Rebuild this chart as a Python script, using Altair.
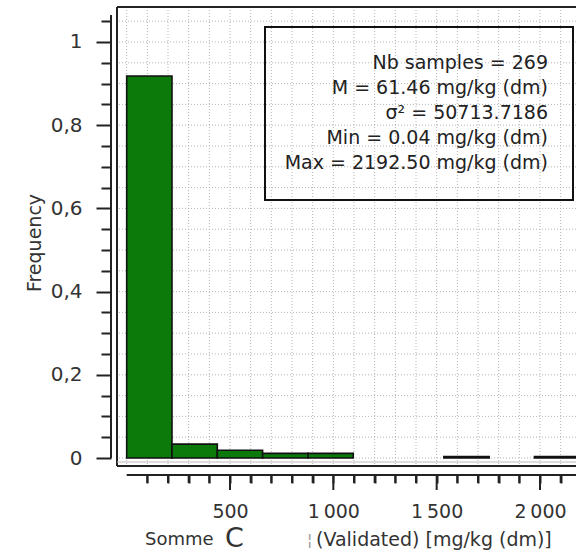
import altair as alt
import pandas as pd

# ---- data ----
bin_starts = [0.04, 219.29, 438.53, 657.78, 877.02, 1096.27, 1315.51, 1534.76, 1754.00, 1973.25]
bin_ends = [219.29, 438.53, 657.78, 877.02, 1096.27, 1315.51, 1534.76, 1754.00, 1973.25, 2192.50]
counts = [247, 9, 5, 3, 3, 0, 0, 1, 0, 1]
n_samples = 269
stats_lines = [
    "Nb samples = 269",
    "M = 61.46 mg/kg (dm)",
    "σ² = 50713.7186",
    "Min = 0.04 mg/kg (dm)",
    "Max = 2192.50 mg/kg (dm)",
]
y_ticks = [round(i * 0.05, 2) for i in range(22)]
x_ticks = list(range(100, 2200, 100))
x_major = [500, 1000, 1500, 2000]
x_grid = list(range(0, 2200, 100))
y_title = "Frequency"
x_title_parts = ["Somme", "C", "¦", "(Validated) [mg/kg (dm)]"]

FONT = "DejaVu Sans"
W, H = 459, 459
Y_DOMAIN = [-0.01923, 1.08413]


def y_at(px):
    # value of the y scale at a given local pixel row (used for the x-axis tick marks)
    return Y_DOMAIN[1] - px / H * (Y_DOMAIN[1] - Y_DOMAIN[0])


bars = pd.DataFrame({
    "start": bin_starts,
    "end": bin_ends,
    "freq": [c / n_samples for c in counts],
})
bars = bars[bars["freq"] > 0]

xscale = alt.Scale(domain=[-46.8, 2174.2], nice=False, zero=False)
yscale = alt.Scale(domain=Y_DOMAIN, nice=False, zero=False)

x_axis = alt.Axis(
    values=x_ticks, offset=9, domain=False, grid=False, title=None,
    ticks=True, tickSize=8, tickWidth=2, tickColor="#222222",
    labelExpr="datum.value % 500 == 0 ? replace(format(datum.value, ','), ',', '\u2009') : ''",
    labelFont=FONT, labelFontSize=19, labelColor="#333333",
    labelPadding=19, labelFlush=False, labelOverlap=False,
)
y_axis = alt.Axis(
    values=y_ticks, offset=6, domain=False, grid=False, title=None,
    tickColor="#222222", tickWidth=2,
    tickSize={"condition": {"test": "abs(datum.value*5 - round(datum.value*5)) < 0.001", "value": 15}, "value": 10},
    labelExpr="abs(datum.value*5 - round(datum.value*5)) < 0.001 ? replace(format(datum.value, '.1~f'), '.', ',') : ''",
    labelFont=FONT, labelFontSize=20, labelColor="#333333",
    labelPadding=14, labelFlush=False, labelOverlap=False,
)

grid_h = alt.Chart(pd.DataFrame({"v": y_ticks})).mark_rule(
    color="#b5b5b5", strokeDash=[1, 2], strokeWidth=1
).encode(y=alt.Y("v:Q", scale=yscale, axis=y_axis, title=None))

grid_v = alt.Chart(pd.DataFrame({"v": x_grid})).mark_rule(
    color="#b5b5b5", strokeDash=[1, 2], strokeWidth=1
).encode(x=alt.X("v:Q", scale=xscale, axis=x_axis, title=None))

bar_layer = alt.Chart(bars).mark_rect(
    color="#0b7a0b", stroke="#111111", strokeWidth=1.6
).encode(
    x=alt.X("start:Q", scale=xscale, axis=x_axis, title=None),
    x2="end:Q",
    y=alt.Y("freq:Q", scale=yscale, axis=y_axis, title=None),
    y2=alt.datum(0),
)

# x-axis tick marks: minor every 100, major every 500 (x through the x scale)
tick_df = pd.DataFrame({"v": x_ticks})
tick_df["top"] = y_at(H + 9)
tick_df["bottom"] = [y_at(H + 24) if v in x_major else y_at(H + 17) for v in x_ticks]
x_tick_layer = alt.Chart(tick_df).mark_rule(
    color="#222222", strokeWidth=2, clip=False
).encode(
    x=alt.X("v:Q", scale=xscale, axis=x_axis, title=None),
    y=alt.Y("top:Q", scale=yscale, axis=y_axis, title=None),
    y2="bottom:Q",
)

# axis lines
y_axis_line = alt.Chart(pd.DataFrame({"lo": [0.0], "hi": [1.065]})).mark_rule(
    color="#222222", strokeWidth=2, clip=False
).encode(x=alt.value(-6), y=alt.Y("lo:Q", scale=yscale, axis=y_axis, title=None), y2="hi:Q")

x_axis_line = alt.Chart(pd.DataFrame({"lo": [0.0], "hi": [2174.2]})).mark_rule(
    color="#222222", strokeWidth=2, clip=False
).encode(y=alt.value(H + 9), x=alt.X("lo:Q", scale=xscale, axis=x_axis, title=None), x2="hi:Q")

# frame
one = pd.DataFrame({"a": [0]})
frame_top = alt.Chart(one).mark_rule(color="#222222", strokeWidth=2).encode(
    x=alt.value(0), x2=alt.value(W), y=alt.value(0))
frame_left = alt.Chart(one).mark_rule(color="#222222", strokeWidth=2).encode(
    x=alt.value(0), y=alt.value(0), y2=alt.value(H))
frame_bottom = alt.Chart(one).mark_rule(color="#222222", strokeWidth=2).encode(
    x=alt.value(0), x2=alt.value(W), y=alt.value(H))
frame_bottom2 = alt.Chart(one).mark_rule(color="#bbbbbb", strokeWidth=1).encode(
    x=alt.value(0), x2=alt.value(W), y=alt.value(H - 4))

# stats box
stats_box = alt.Chart(one).mark_rect(
    fill=None, stroke="#111111", strokeWidth=2
).encode(x=alt.value(148), x2=alt.value(456), y=alt.value(20), y2=alt.value(193))

stats_layers = [
    alt.Chart(pd.DataFrame({"t": [line]})).mark_text(
        align="right", baseline="middle", font=FONT, fontSize=19, color="#222222"
    ).encode(x=alt.value(431), y=alt.value(56 + 25 * i), text="t:N")
    for i, line in enumerate(stats_lines)
]

# titles
y_title_layer = alt.Chart(pd.DataFrame({"t": [y_title]})).mark_text(
    angle=270, align="center", baseline="middle", font=FONT, fontSize=19, color="#333333"
).encode(x=alt.value(-82), y=alt.value(236), text="t:N")

xt1 = alt.Chart(pd.DataFrame({"t": [x_title_parts[0]]})).mark_text(
    align="left", baseline="middle", font=FONT, fontSize=18, color="#333333"
).encode(x=alt.value(28), y=alt.value(H + 74), text="t:N")
xt2 = alt.Chart(pd.DataFrame({"t": [x_title_parts[1]]})).mark_text(
    align="left", baseline="middle", font=FONT, fontSize=27, color="#333333"
).encode(x=alt.value(108), y=alt.value(H + 73), text="t:N")
xt3 = alt.Chart(pd.DataFrame({"t": [x_title_parts[2]]})).mark_text(
    align="left", baseline="middle", font=FONT, fontSize=16, color="#999999"
).encode(x=alt.value(190), y=alt.value(H + 74), text="t:N")
xt4 = alt.Chart(pd.DataFrame({"t": [x_title_parts[3]]})).mark_text(
    align="left", baseline="middle", font=FONT, fontSize=19, color="#333333"
).encode(x=alt.value(199), y=alt.value(H + 74), text="t:N")

chart = alt.layer(
    grid_h, grid_v, bar_layer, x_tick_layer, y_axis_line, x_axis_line,
    frame_top, frame_left, frame_bottom2, frame_bottom,
    stats_box, *stats_layers, y_title_layer, xt1, xt2, xt3, xt4,
).properties(
    width=W, height=H,
    autosize=alt.AutoSizeParams(type="none"),
    padding={"left": 117, "top": 7, "right": 0, "bottom": 89},
    background="white",
).configure_view(stroke=None)

chart.save("out.html", embed_options={"renderer": "svg", "actions": False})
